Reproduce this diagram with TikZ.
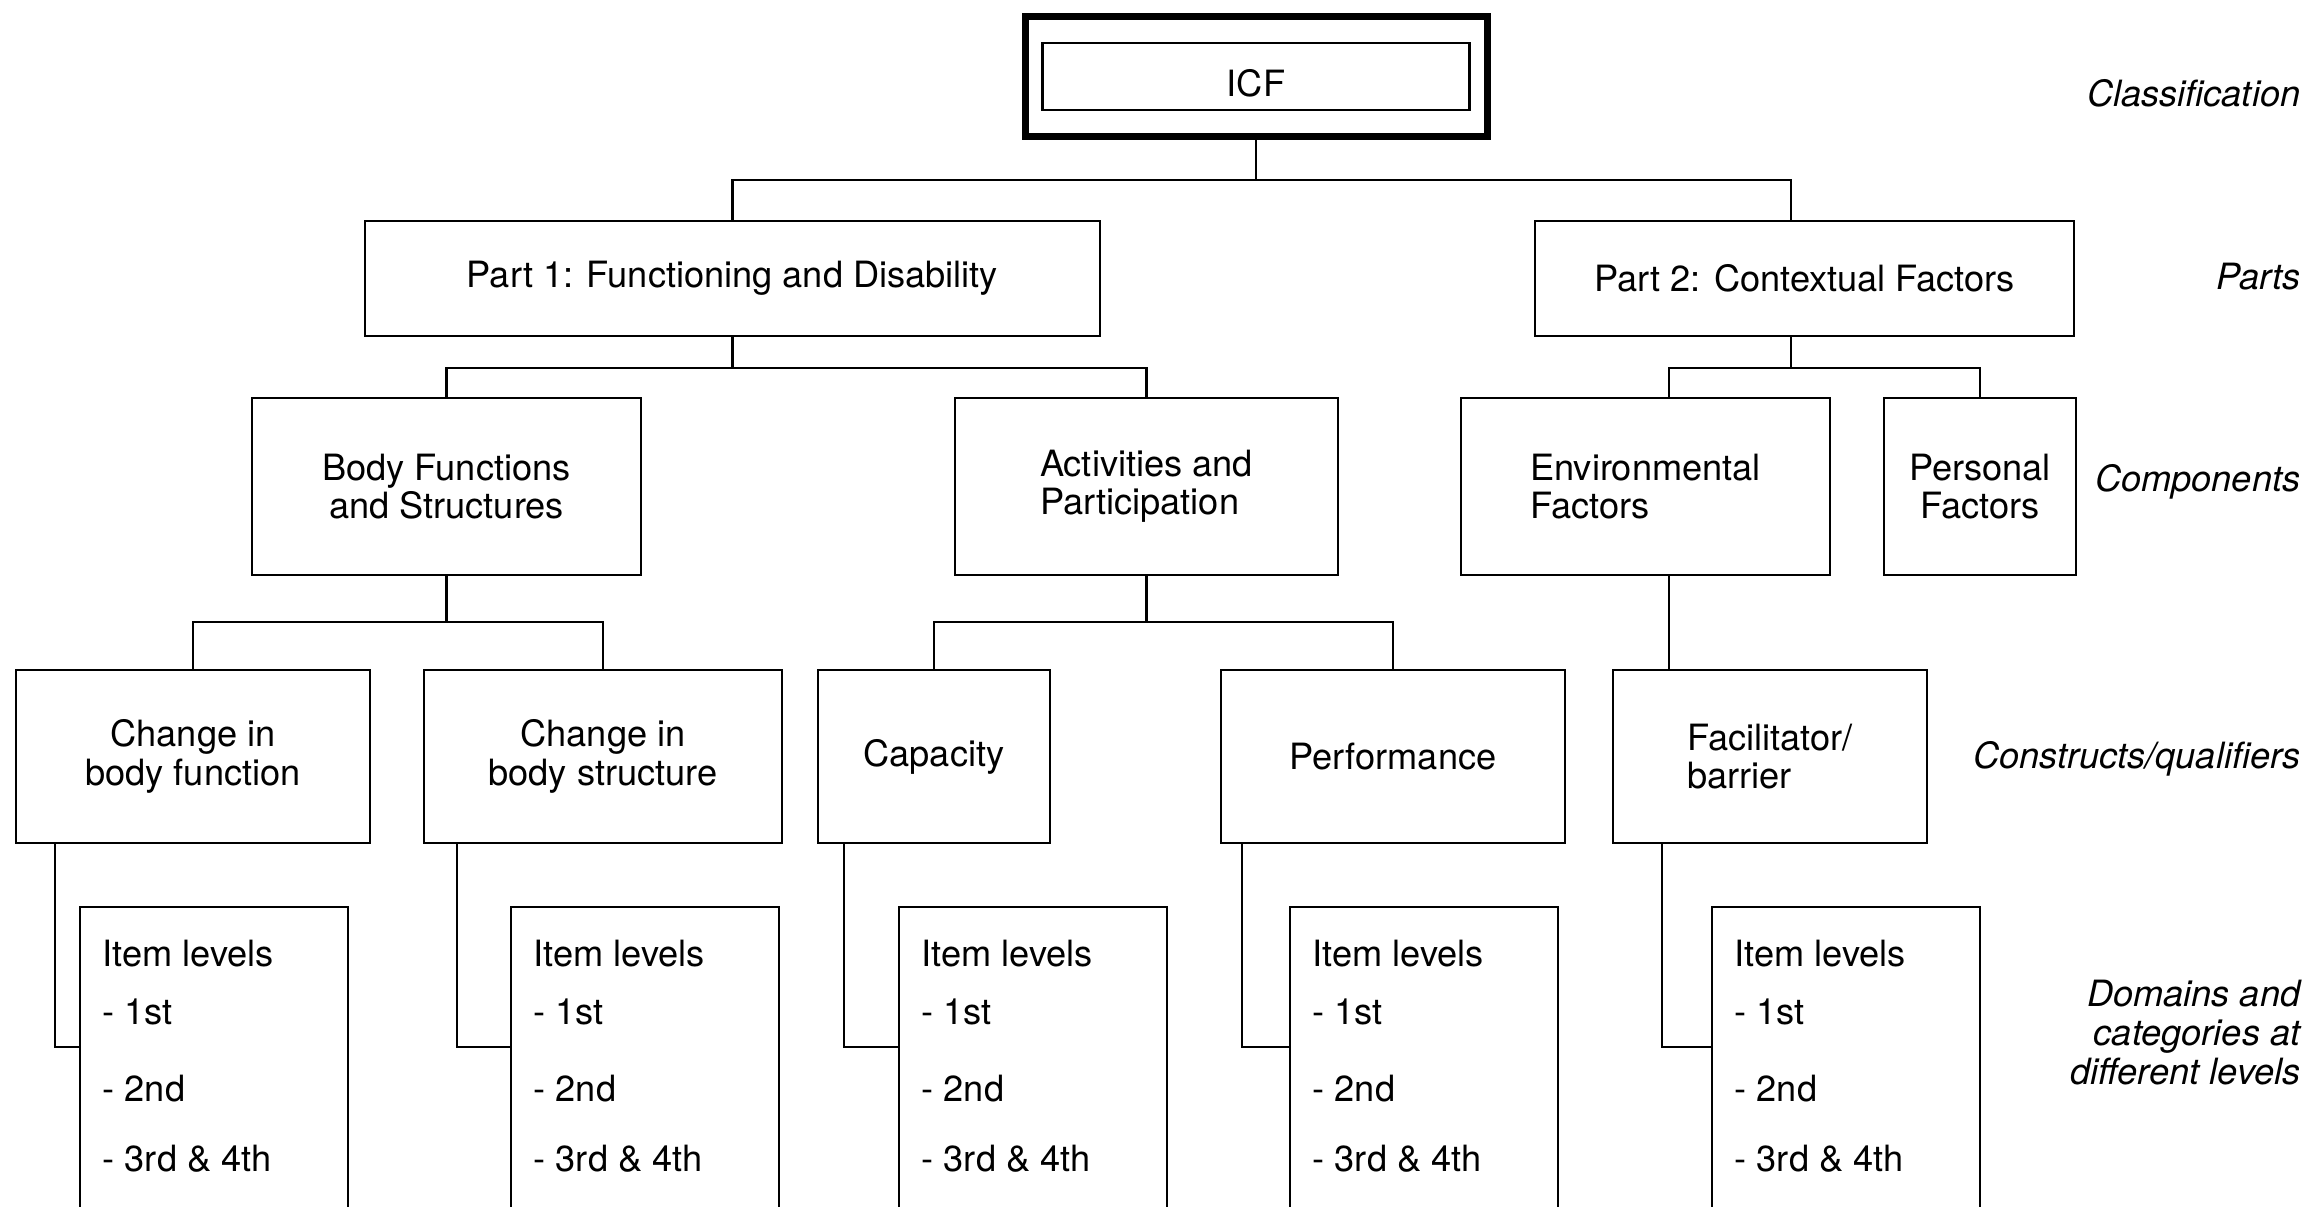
\documentclass[tikz,border=0pt]{standalone}
\usepackage{fontspec}
\setmainfont{TeX Gyre Heros}
\usepackage{tikz}
\usetikzlibrary{positioning}

\newcommand{\levellist}{Item levels\\[2.05mm] - 1st\\[3.85mm] - 2nd\\[3.15mm] - 3rd \& 4th}

\begin{document}
\begin{tikzpicture}[
  box/.style={draw, line width=0.8pt, inner sep=2pt, outer sep=0pt, align=center,
              font=\fontsize{10.3}{10.9}\selectfont},
  itembox/.style={draw, line width=0.8pt, outer sep=0pt, minimum width=2.68cm,
                  minimum height=3.6cm, anchor=north west},
  itemtxt/.style={anchor=north west, align=left, inner sep=0pt,
                  font=\fontsize{10.3}{10.9}\selectfont},
  lbl/.style={anchor=east, align=right, inner sep=0pt,
              font=\fontsize{10.3}{11.1}\selectfont\itshape},
  conn/.style={line width=0.8pt}
]
  \useasboundingbox (0,0) rectangle (23.10,-12.07);
  \clip (0,0) rectangle (23.10,-12.07);

  % Classification
  \node[draw, line width=2pt, outer sep=0pt, minimum width=4.62cm, minimum height=1.20cm]
    (icf) at (12.56,-0.765) {};
  \node[box, minimum width=4.27cm, minimum height=0.67cm] (icfin) at (icf.center) {};
  \node[font=\fontsize{10.3}{10.9}\selectfont] (icft) at ([yshift=-0.7mm]icfin.center) {ICF};

  % Parts
  \node[box, minimum width=7.35cm, minimum height=1.15cm] (part1) at (7.325,-2.785)
    {Part 1: Functioning and Disability};
  \node[box, minimum width=5.39cm, minimum height=1.15cm, right=4.35cm of part1] (part2)
    {Part 2: Contextual Factors};

  % Components
  \node[box, minimum width=3.89cm, minimum height=1.77cm] (bodyfn) at (4.465,-4.865)
    {Body Functions\\and Structures};
  \node[box, align=left, minimum width=3.83cm, minimum height=1.77cm, right=3.14cm of bodyfn] (activ)
    {Activities and\\Participation};
  \node[box, align=left, minimum width=3.69cm, minimum height=1.77cm, right=1.23cm of activ] (envf)
    {Environmental\\Factors};
  \node[box, minimum width=1.92cm, minimum height=1.77cm, right=0.54cm of envf] (persf)
    {Personal\\Factors};

  % Constructs / qualifiers
  \node[box, minimum width=3.54cm, minimum height=1.73cm] (chfn) at (1.93,-7.565)
    {Change in\\body function};
  \node[box, minimum width=3.58cm, minimum height=1.73cm, right=0.54cm of chfn] (chst)
    {Change in\\body structure};
  \node[box, minimum width=2.32cm, minimum height=1.73cm, right=0.36cm of chst] (capac) {Capacity};
  \node[box, minimum width=3.44cm, minimum height=1.73cm, right=1.71cm of capac] (perf) {Performance};
  \node[box, align=left, minimum width=3.14cm, minimum height=1.73cm, right=0.48cm of perf] (facil)
    {Facilitator/\\barrier};

  % Item levels
  \node[itembox] (item1) at (0.80,-9.07) {};
  \node[itemtxt] (item1t) at ([xshift=2.2mm,yshift=-3.2mm]item1.north west) {\levellist};
  \node[itembox] (item2) at (5.11,-9.07) {};
  \node[itemtxt] (item2t) at ([xshift=2.2mm,yshift=-3.2mm]item2.north west) {\levellist};
  \node[itembox] (item3) at (8.99,-9.07) {};
  \node[itemtxt] (item3t) at ([xshift=2.2mm,yshift=-3.2mm]item3.north west) {\levellist};
  \node[itembox] (item4) at (12.90,-9.07) {};
  \node[itemtxt] (item4t) at ([xshift=2.2mm,yshift=-3.2mm]item4.north west) {\levellist};
  \node[itembox] (item5) at (17.12,-9.07) {};
  \node[itemtxt] (item5t) at ([xshift=2.2mm,yshift=-3.2mm]item5.north west) {\levellist};

  % Level labels
  \node[lbl] (lclass) at (23.01,-0.93) {Classification};
  \node[lbl] (lparts) at (23.01,-2.77) {Parts};
  \node[lbl] (lcomp) at (23.01,-4.82) {Components};
  \node[lbl] (lcons) at (23.01,-7.59) {Constructs/qualifiers};
  \node[lbl] (ldom) at (23.01,-10.33) {Domains and\\categories at\\different levels};

  % Tree lines
  \draw[conn] (icf.south) -- ++(0,-0.435);
  \draw[conn] (part1.north) |- ([yshift=-4.35mm]icf.south) -| ([xshift=-1.35mm]part2.north);
  \draw[conn] (part1.south) -- ++(0,-0.32);
  \draw[conn] (bodyfn.north) |- ([yshift=-3.2mm]part1.south) -| (activ.north);
  \draw[conn] ([xshift=-1.35mm]part2.south) -- ++(0,-0.32);
  \draw[conn] ([xshift=2.35mm]envf.north) |- ([xshift=-1.35mm,yshift=-3.2mm]part2.south) -| (persf.north);
  \draw[conn] (bodyfn.south) -- ++(0,-0.47);
  \draw[conn] (chfn.north) |- ([yshift=-4.7mm]bodyfn.south) -| (chst.north);
  \draw[conn] (activ.south) -- ++(0,-0.47);
  \draw[conn] (capac.north) |- ([yshift=-4.7mm]activ.south) -| (perf.north);
  \draw[conn] ([xshift=2.35mm]envf.south) -- ([xshift=2.35mm]envf.south |- facil.north);

  % To item levels
  \draw[conn] ([xshift=3.9mm]chfn.south west) |- ([yshift=-14mm]item1.north west);
  \draw[conn] ([xshift=3.3mm]chst.south west) |- ([yshift=-14mm]item2.north west);
  \draw[conn] ([xshift=2.6mm]capac.south west) |- ([yshift=-14mm]item3.north west);
  \draw[conn] ([xshift=2.1mm]perf.south west) |- ([yshift=-14mm]item4.north west);
  \draw[conn] ([xshift=4.9mm]facil.south west) |- ([yshift=-14mm]item5.north west);
\end{tikzpicture}
\end{document}
